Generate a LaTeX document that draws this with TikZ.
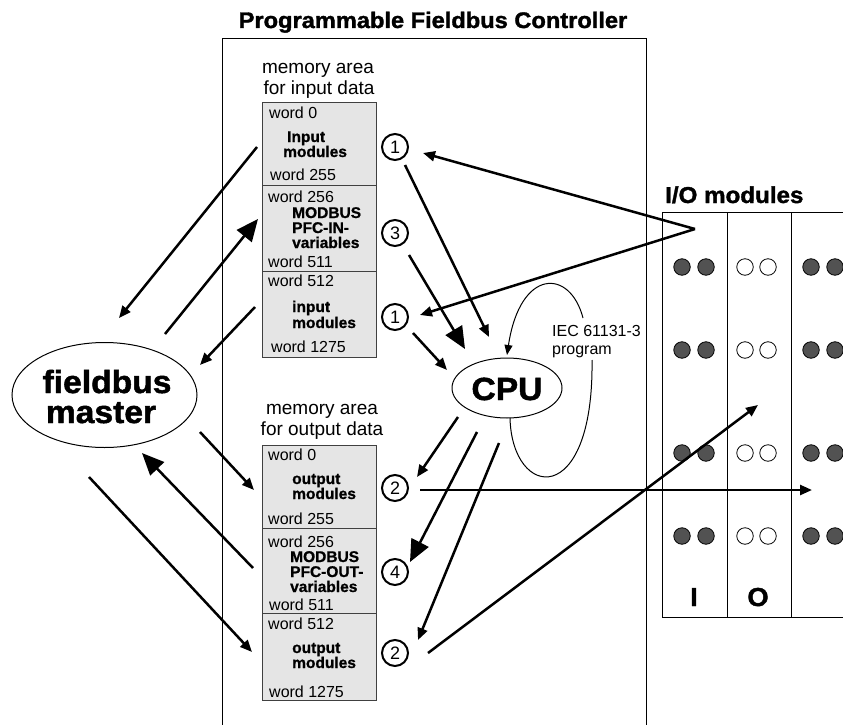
\documentclass[tikz,border=0pt]{standalone}
\usepackage{fontspec}
\setmainfont{Liberation Sans}
\newfontfamily\hb{Liberation Sans}[FakeStretch=1.05, FakeBold=1.5]
\newfontfamily\mb{Liberation Sans}[FakeBold=1]
\usetikzlibrary{arrows.meta,shapes.geometric}
\begin{document}
\begin{tikzpicture}[x=1pt,y=-1pt,
 lbl/.style={inner sep=0pt, anchor=base west, font=\fontsize{16}{16}\selectfont},
 blbl/.style={inner sep=0pt, anchor=base west, font=\mb\bfseries\fontsize{15.5}{15.5}\selectfont},
 memlbl/.style={inner sep=0pt, anchor=base, font=\fontsize{19}{19}\selectfont},
 mem/.style={draw=black!75, fill=black!10, line width=1pt, inner sep=0pt, outer sep=0pt, minimum width=114pt, anchor=north west},
 num/.style={circle, draw, line width=2pt, minimum size=26pt, inner sep=0pt, font=\fontsize{18}{18}\selectfont},
 arr/.style={line width=2.5pt, -{Triangle[length=12pt,width=10pt]}},
 bigarr/.style={line width=2.5pt, -{Triangle[length=22pt,width=19pt]}},
 thinarr/.style={line width=1pt, -{Triangle[length=10pt,width=8pt]}},
 dotf/.style={circle, draw, line width=0.8pt, fill=black!68, minimum size=16.5pt, inner sep=0pt},
 doto/.style={circle, draw, line width=0.8pt, fill=white, minimum size=16.5pt, inner sep=0pt},
 frame/.style={line width=1pt},
 ell/.style={ellipse, draw, line width=1pt, inner sep=0pt},
 bigtxt/.style={inner sep=0pt, anchor=base, font=\hb\bfseries\fontsize{32}{32}\selectfont},
]
\useasboundingbox (0,0) rectangle (843,725);

% title and frame
\node[inner sep=0pt, anchor=base, font=\hb\bfseries\fontsize{22.5}{22.5}\selectfont] (title) at (433,28) {Programmable Fieldbus Controller};
\draw[frame] (222,730) -- (222,39) -- (646,39) -- (646,730);

% input memory
\node[memlbl] (mi1) at (318,74) {memory area};
\node[memlbl] (mi2) at (319,95) {for input data};
\node[mem, minimum height=83pt] (in1) at (262,102) {};
\node[mem, minimum height=86pt] (in2) at (262,185) {};
\node[mem, minimum height=86pt] (in3) at (262,271) {};
\node[lbl] (w0) at (269,118) {word 0};
\node[blbl] (t1a) at (287,142) {Input};
\node[blbl] (t1b) at (283,157) {modules};
\node[lbl] (w255) at (270,180) {word 255};
\node[lbl] (w256) at (268,202) {word 256};
\node[blbl] (t2a) at (292,218) {MODBUS};
\node[blbl] (t2b) at (292,233) {PFC-IN-};
\node[blbl] (t2c) at (292,248) {variables};
\node[lbl] (w511) at (268,267) {word 511};
\node[lbl] (w512) at (268,286) {word 512};
\node[blbl] (t3a) at (292,312) {input};
\node[blbl] (t3b) at (292,328) {modules};
\node[lbl] (w1275) at (271,352) {word 1275};

% output memory
\node[memlbl] (mo1) at (322,414) {memory area};
\node[memlbl] (mo2) at (322,435) {for output data};
\node[mem, minimum height=83pt] (out1) at (262,445) {};
\node[mem, minimum height=85pt] (out2) at (262,528) {};
\node[mem, minimum height=87pt] (out3) at (262,613) {};
\node[lbl] (ow0) at (268,460) {word 0};
\node[blbl] (u1a) at (292,484) {output};
\node[blbl] (u1b) at (292,499) {modules};
\node[lbl] (ow255) at (268,524) {word 255};
\node[lbl] (ow256) at (268,547) {word 256};
\node[blbl] (u2a) at (290,562) {MODBUS};
\node[blbl] (u2b) at (290,577) {PFC-OUT-};
\node[blbl] (u2c) at (290,592) {variables};
\node[lbl] (ow511) at (269,610) {word 511};
\node[lbl] (ow512) at (268,629) {word 512};
\node[blbl] (u3a) at (292,653) {output};
\node[blbl] (u3b) at (292,668) {modules};
\node[lbl] (ow1275) at (269,697) {word 1275};

% numbered circles
\node[num] (c1) at (395,147) {1};
\node[num] (c3) at (395,233) {3};
\node[num] (c1b) at (395,317) {1};
\node[num] (c2) at (395,488) {2};
\node[num] (c4) at (395,572) {4};
\node[num] (c2b) at (395,653) {2};

% ellipses
\node[ell, minimum width=185pt, minimum height=105pt] (fm) at (104.5,395) {};
\node[bigtxt] (fmt1) at (107,393) {fieldbus};
\node[bigtxt] (fmt2) at (101,423) {master};
\node[ell, minimum width=110pt, minimum height=60pt] (cpu) at (507,388) {};
\node[bigtxt] (cput) at (507,400) {CPU};

% IEC program
\node[lbl] (iec1) at (552,336) {IEC 61131-3};
\node[lbl] (iec2) at (552,354) {program};
\coordinate (lp1) at (510,418);
\coordinate (lp2) at (592,360);
\coordinate (lp3) at (583,318);
\coordinate (lp4) at (507,355);
\draw[line width=1pt] (lp1) .. controls (512,500) and (594,510) .. (lp2);
\draw[thinarr] (lp3) .. controls (570,268) and (520,268) .. (lp4);

% I/O modules
\node[inner sep=0pt, anchor=base west, font=\hb\bfseries\fontsize{23}{23}\selectfont] (iot) at (665,203) {I/O modules};
\draw[frame] (843,212) -- (662,212) -- (662,617) -- (843,617);
\draw[frame] (727,212) -- (727,617);
\draw[frame] (791,212) -- (791,617);
\foreach \r/\yy in {1/267,2/350,3/453,4/536}{
  \node[dotf] (d1\r) at (682,\yy) {};
  \node[dotf] (d2\r) at (706,\yy) {};
  \node[doto] (d3\r) at (745,\yy) {};
  \node[doto] (d4\r) at (768,\yy) {};
  \node[dotf] (d5\r) at (811,\yy) {};
  \node[dotf] (d6\r) at (835,\yy) {};
}
\node[inner sep=0pt, anchor=base, font=\hb\bfseries\fontsize{26}{26}\selectfont] (li) at (694,606) {I};
\node[inner sep=0pt, anchor=base, font=\hb\bfseries\fontsize{26}{26}\selectfont] (lo) at (758,606) {O};

% left side arrows
\coordinate (a1s) at (257,147); \coordinate (a1e) at (119,318);
\coordinate (a2s) at (165,334); \coordinate (a2e) at (258,219);
\coordinate (a3s) at (255,307); \coordinate (a3e) at (200,365);
\coordinate (a4s) at (200,432); \coordinate (a4e) at (254,490);
\coordinate (a5s) at (253,568); \coordinate (a5e) at (142,453);
\coordinate (a6s) at (89,477);  \coordinate (a6e) at (252,652);
\draw[arr] (a1s) -- (a1e);
\draw[bigarr] (a2s) -- (a2e);
\draw[arr] (a3s) -- (a3e);
\draw[arr] (a4s) -- (a4e);
\draw[bigarr] (a5s) -- (a5e);
\draw[arr] (a6s) -- (a6e);

% right side arrows
\coordinate (io) at (695,229);
\coordinate (a7e) at (423,153);
\coordinate (a8e) at (420,315);
\draw[arr] (io) -- (a7e);
\draw[arr] (io) -- (a8e);
\coordinate (a9s) at (405,165); \coordinate (a9e) at (489,337);
\coordinate (a10s) at (409,255); \coordinate (a10e) at (465,349);
\coordinate (a11s) at (413,333); \coordinate (a11e) at (447,370);
\draw[arr] (a9s) -- (a9e);
\draw[bigarr] (a10s) -- (a10e);
\draw[arr] (a11s) -- (a11e);
\coordinate (a13s) at (458,417); \coordinate (a13e) at (417,477);
\coordinate (a14s) at (477,432); \coordinate (a14e) at (410,562);
\coordinate (a15s) at (499,443); \coordinate (a15e) at (418,640);
\draw[arr] (a13s) -- (a13e);
\draw[bigarr] (a14s) -- (a14e);
\draw[arr] (a15s) -- (a15e);
\coordinate (a16s) at (420,490); \coordinate (a16e) at (812,490);
\coordinate (a17s) at (428,653); \coordinate (a17e) at (758,405);
\draw[arr] (a16s) -- (a16e);
\draw[arr] (a17s) -- (a17e);
\end{tikzpicture}
\end{document}
